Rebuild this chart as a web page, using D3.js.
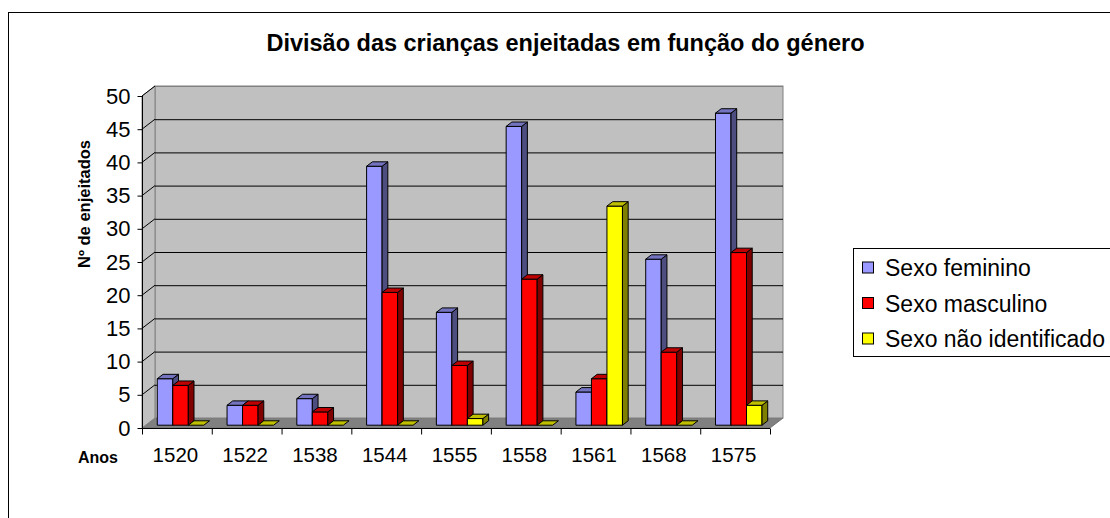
<!DOCTYPE html>
<html><head><meta charset="utf-8">
<script src="https://cdn.jsdelivr.net/npm/d3@7"></script>
<style>
html,body{margin:0;padding:0;background:#fff;}
svg{display:block;font-family:"Liberation Sans",Arial,sans-serif;}
</style></head>
<body>
<svg id="c" width="1110" height="518"></svg>
<script>
const years = ["1520","1522","1538","1544","1555","1558","1561","1568","1575"];
const seriesNames = ["Sexo feminino","Sexo masculino","Sexo não identificado"];
const feminino = [7,3,4,39,17,45,5,25,47];
const masculino = [6,3,2,20,9,22,7,11,26];
const naoIdent = [0,0,0,0,1,0,33,0,3];
const yTicks = [0,5,10,15,20,25,30,35,40,45,50];
const titleText = "Divisão das crianças enjeitadas em função do género";
const yTitle = "Nº de enjeitados";
const xTitle = "Anos";

const seriesValues = [feminino, masculino, naoIdent];
const colors = [
  {front:"#9999FF", side:"#4D4D80", top:"#7373BF"},
  {front:"#FF0000", side:"#800000", top:"#BF0000"},
  {front:"#FFFF00", side:"#808000", top:"#BFBF00"}
];

const svg = d3.select("#c");
svg.append("rect").attr("x",8.5).attr("y",12.5).attr("width",1200).attr("height",600)
  .attr("fill","#fff").attr("stroke","#000").attr("stroke-width",1);

const X0 = 142, X1 = 770;
const DX = 13, DY = -10;
const zf = 0.28, zb = 0.72;
const x = d3.scaleBand().domain(years).range([X0, X1]).paddingInner(0).paddingOuter(0);
const xs = d3.scaleBand().domain(seriesNames).range([0, x.bandwidth()]).paddingInner(0).paddingOuter(0.75);
const y = d3.scaleLinear().domain([0,50]).range([428, 96]);

const g = svg.append("g");
const pts = a => a.map(p => p.join(",")).join(" ");

g.append("polygon").attr("points", pts([[X0,y(0)],[X1,y(0)],[X1+DX,y(0)+DY],[X0+DX,y(0)+DY]]))
  .attr("fill","#808080").attr("stroke","#707070").attr("stroke-width",1);
g.append("rect").attr("x",X0+DX).attr("y",y(50)+DY).attr("width",X1-X0).attr("height",y(0)-y(50))
  .attr("fill","#C0C0C0").attr("stroke","#808080").attr("stroke-width",1);
g.append("polygon").attr("points", pts([[X0,y(50)],[X0+DX,y(50)+DY],[X0+DX,y(0)+DY],[X0,y(0)]]))
  .attr("fill","#C0C0C0").attr("stroke","#808080").attr("stroke-width",1);

yTicks.filter(v => v>0 && v<50).forEach(v => {
  g.append("line").attr("x1",X0+DX).attr("x2",X1+DX).attr("y1",y(v)+DY+0.5).attr("y2",y(v)+DY+0.5)
    .attr("stroke","#000").attr("stroke-width",1);
});
yTicks.filter(v => v>0).forEach(v => {
  g.append("line").attr("x1",X0).attr("x2",X0+DX).attr("y1",y(v)).attr("y2",y(v)+DY)
    .attr("stroke","#000").attr("stroke-width",1);
});
g.append("line").attr("x1",X0+DX).attr("x2",X1+DX).attr("y1",y(50)+DY+0.5).attr("y2",y(50)+DY+0.5)
  .attr("stroke","#808080");

const yAxis = d3.axisLeft(y).tickValues(yTicks).tickSize(5).tickPadding(7).tickFormat(d3.format("d"));
const ya = svg.append("g").attr("transform",`translate(${X0+0.5},0)`).call(yAxis);
ya.select(".domain").attr("stroke","#000").attr("d",`M0,${y(50)}V${y(0)}`);
ya.selectAll(".tick line").attr("stroke","#000");
ya.selectAll("text").attr("font-size",22).attr("fill","#000").attr("font-family","Liberation Sans, Arial, sans-serif");

const xAxis = d3.axisBottom(x).tickSize(0).tickPadding(19);
const xa = svg.append("g").attr("transform",`translate(0,${y(0)+0.5})`).call(xAxis);
xa.select(".domain").attr("stroke","#000").attr("d",`M${X0},0H${X1}`);
xa.selectAll("text").attr("font-size",20.5).attr("fill","#000").attr("font-family","Liberation Sans, Arial, sans-serif")
  .attr("dx",-1.5);
const bounds = years.map(d => x(d)).concat([X1]);
xa.selectAll(".btick").data(bounds).enter().append("line").attr("class","btick")
  .attr("x1",d=>d+0.5).attr("x2",d=>d+0.5).attr("y1",0).attr("y2",6).attr("stroke","#000");

const bars = svg.append("g");
years.forEach((yr, i) => {
  seriesNames.forEach((s, j) => {
    const v = seriesValues[j][i];
    const c = colors[j];
    const xl = x(yr) + xs(s) + DX*zf;
    const xr = xl + xs.bandwidth();
    const yb = y(0) + DY*zf;
    const yt = y(v) + DY*zf;
    const ddx = DX*(zb-zf), ddy = DY*(zb-zf);
    const bg = bars.append("g").attr("stroke","#000").attr("stroke-width",1).attr("stroke-linejoin","round");
    if (v > 0) {
      bg.append("polygon").attr("points", pts([[xl,yt],[xr,yt],[xr,yb],[xl,yb]])).attr("fill",c.front);
      bg.append("polygon").attr("points", pts([[xr,yt],[xr+ddx,yt+ddy],[xr+ddx,yb+ddy],[xr,yb]])).attr("fill",c.side);
    }
    bg.append("polygon").attr("points", pts([[xl,yt],[xl+ddx,yt+ddy],[xr+ddx,yt+ddy],[xr,yt]])).attr("fill", v>0 ? c.top : "#BFBF00");
  });
});

svg.append("text").attr("x",565.5).attr("y",51).attr("text-anchor","middle")
  .attr("font-size",23.5).attr("font-weight","bold").text(titleText);
svg.append("text").attr("transform","translate(89.5,204) rotate(-90)").attr("text-anchor","middle")
  .attr("font-size",16.5).attr("font-weight","bold").text(yTitle);
svg.append("text").attr("x",78).attr("y",463).attr("font-size",16).attr("font-weight","bold").text(xTitle);

const lg = svg.append("g");
lg.append("rect").attr("x",853.5).attr("y",248.5).attr("width",300).attr("height",108)
  .attr("fill","#fff").attr("stroke","#000");
seriesNames.forEach((s, j) => {
  const cy = 268 + j*35.5;
  lg.append("rect").attr("x",862.5).attr("y",cy-6).attr("width",11).attr("height",11)
    .attr("fill",colors[j].front).attr("stroke","#000");
  lg.append("text").attr("x",885).attr("y",cy+8).attr("font-size",23).text(s);
});
</script>
</body></html>
